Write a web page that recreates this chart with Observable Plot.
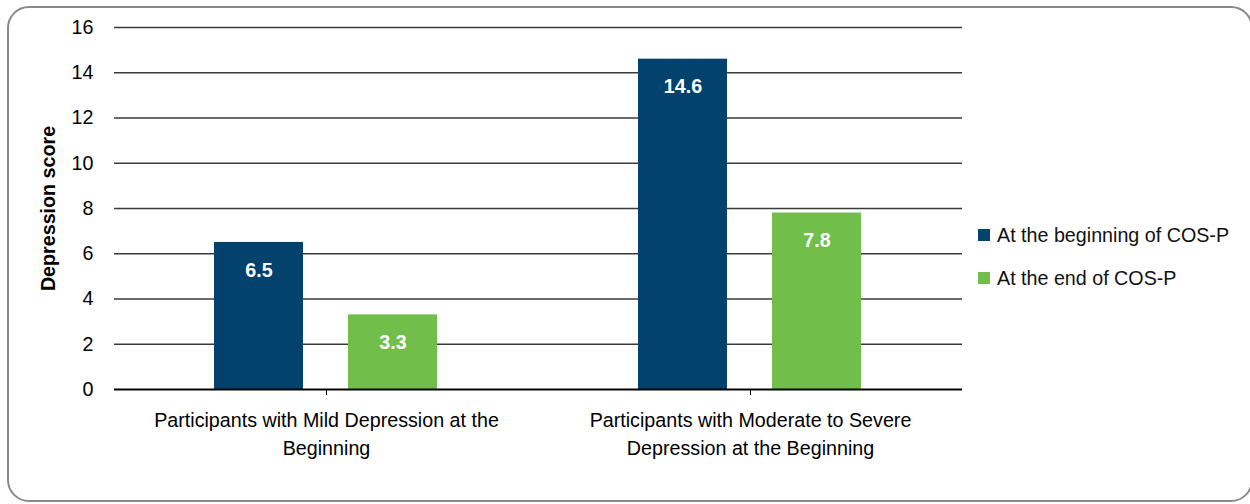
<!DOCTYPE html>
<html>
<head>
<meta charset="utf-8">
<script src="https://cdn.jsdelivr.net/npm/d3@7"></script>
<script src="https://cdn.jsdelivr.net/npm/@observablehq/plot@0.6"></script>
<style>
  html, body { margin: 0; padding: 0; background: #fff; }
  #wrap { position: relative; width: 1250px; height: 504px; overflow: hidden;
          font-family: "Liberation Sans", Arial, sans-serif; }
  #frame { position: absolute; left: 7px; top: 6px; width: 1246px; height: 496px;
           border: 2px solid #8a8a8a; border-radius: 22px; box-sizing: border-box; }
  #chart { position: absolute; left: 0; top: 0; }
  #chart g[aria-label="y-axis label"] text { font-weight: bold; }
  #legend { position: absolute; left: 978px; top: 220px; font-size: 19.7px; color: #111; }
  .item { display: flex; align-items: center; height: 30px; margin-bottom: 13px; white-space: nowrap; }
  .sw { width: 12px; height: 12px; margin-right: 7px; }
</style>
</head>
<body>
<div id="wrap">
  <div id="frame"></div>
  <div id="chart"></div>
  <div id="legend"></div>
</div>
<script>
const categories = [
  "Participants with Mild Depression at the\nBeginning",
  "Participants with Moderate to Severe\nDepression at the Beginning"
];
const series = ["At the beginning of COS-P", "At the end of COS-P"];
const colors = ["#02426C", "#71BE4A"];
const beginningValues = [6.5, 14.6];
const endValues = [3.3, 7.8];
const yTicks = [0, 2, 4, 6, 8, 10, 12, 14, 16];
const yLabel = "Depression score";

const rows = [];
categories.forEach((c, i) => {
  rows.push({category: c, series: series[0], value: beginningValues[i]});
  rows.push({category: c, series: series[1], value: endValues[i]});
});

const font = '"Liberation Sans", Arial, sans-serif';
const fs = 19.7;

const chart = Plot.plot({
  width: 1250,
  height: 504,
  marginLeft: 113,
  marginRight: 288,
  marginTop: 27,
  marginBottom: 115,
  style: {fontFamily: font, fontSize: fs + "px", color: "#000", background: "transparent"},
  fx: {domain: categories, padding: 0, label: null},
  x: {domain: series, paddingInner: 1/3, paddingOuter: 0.739, axis: null},
  y: {domain: [0, 16]},
  color: {domain: series, range: colors},
  marks: [
    Plot.ruleY(yTicks.filter(d => d > 0), {stroke: "#3a3a3a", strokeWidth: 1.3}),
    Plot.barY(rows, {fx: "category", x: "series", y: "value", fill: "series"}),
    Plot.ruleY([0], {stroke: "#000", strokeWidth: 2}),
    Plot.text(rows, {fx: "category", x: "series", y: "value", text: d => d.value.toFixed(1),
      dy: 28, fill: "white", fontWeight: "bold", fontSize: fs}),
    Plot.axisY({ticks: yTicks, tickSize: 0, tickPadding: 21, label: yLabel,
      labelAnchor: "center", labelArrow: "none", labelOffset: 74, fontSize: fs}),
    Plot.axisFx({anchor: "bottom", tickSize: 6, tickPadding: 11, label: null, lineHeight: 1.45, fontSize: fs})
  ]
});
document.getElementById("chart").appendChild(chart);

const legend = document.getElementById("legend");
series.forEach((s, i) => {
  const it = document.createElement("div");
  it.className = "item";
  const sw = document.createElement("span");
  sw.className = "sw";
  sw.style.background = colors[i];
  it.appendChild(sw);
  it.appendChild(document.createTextNode(s));
  legend.appendChild(it);
});
</script>
</body>
</html>
